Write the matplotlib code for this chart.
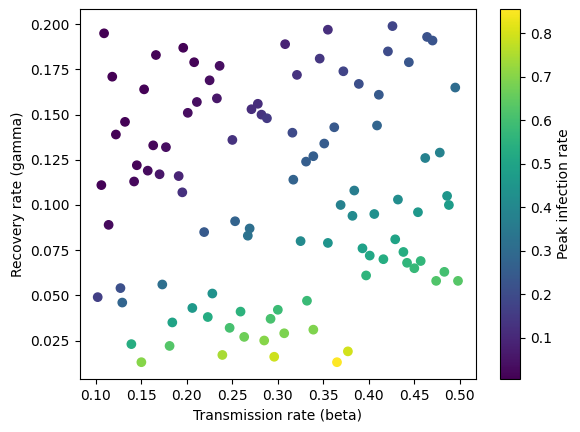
import matplotlib
matplotlib.use("Agg")
import matplotlib.pyplot as plt

# transmission rate (beta), recovery rate (gamma), peak infection rate
beta = [0.109, 0.166, 0.196, 0.208, 0.236, 0.118, 0.225, 0.153, 0.211, 0.233,
        0.201, 0.132, 0.122, 0.163, 0.177, 0.145, 0.157, 0.170, 0.191, 0.106,
        0.142, 0.195, 0.308, 0.321, 0.271, 0.278, 0.282, 0.288, 0.250, 0.316,
        0.317, 0.355, 0.426, 0.464, 0.470, 0.421, 0.346, 0.444, 0.372, 0.389,
        0.411, 0.495, 0.362, 0.409, 0.351, 0.339, 0.331, 0.462, 0.478, 0.384,
        0.432, 0.486, 0.114, 0.219, 0.253, 0.269, 0.267, 0.325, 0.102, 0.127,
        0.129, 0.173, 0.228, 0.206, 0.223, 0.184, 0.259, 0.300, 0.292, 0.247,
        0.263, 0.307, 0.285, 0.139, 0.181, 0.150, 0.239, 0.296, 0.369, 0.488,
        0.382, 0.406, 0.454, 0.355, 0.393, 0.401, 0.416, 0.429, 0.438, 0.442,
        0.450, 0.457, 0.397, 0.483, 0.474, 0.498, 0.332, 0.339, 0.377, 0.365]
gamma = [0.195, 0.183, 0.187, 0.179, 0.177, 0.171, 0.169, 0.164, 0.157, 0.159,
         0.151, 0.146, 0.139, 0.133, 0.132, 0.122, 0.119, 0.117, 0.116, 0.111,
         0.113, 0.107, 0.189, 0.172, 0.153, 0.156, 0.150, 0.148, 0.136, 0.140,
         0.114, 0.197, 0.199, 0.193, 0.191, 0.185, 0.181, 0.179, 0.174, 0.167,
         0.161, 0.165, 0.143, 0.144, 0.134, 0.127, 0.124, 0.126, 0.129, 0.108,
         0.103, 0.105, 0.089, 0.085, 0.091, 0.087, 0.083, 0.080, 0.049, 0.054,
         0.046, 0.056, 0.051, 0.043, 0.038, 0.035, 0.041, 0.042, 0.037, 0.032,
         0.027, 0.029, 0.025, 0.023, 0.022, 0.013, 0.017, 0.016, 0.100, 0.100,
         0.094, 0.095, 0.096, 0.079, 0.076, 0.072, 0.070, 0.081, 0.074, 0.068,
         0.065, 0.069, 0.061, 0.063, 0.058, 0.058, 0.047, 0.031, 0.019, 0.013]
peak = [0.005, 0.010, 0.011, 0.012, 0.035, 0.007, 0.034, 0.010, 0.036, 0.056,
        0.034, 0.010, 0.010, 0.019, 0.036, 0.014, 0.031, 0.055, 0.091, 0.010,
        0.023, 0.122, 0.087, 0.130, 0.112, 0.114, 0.131, 0.145, 0.125, 0.196,
        0.271, 0.120, 0.178, 0.219, 0.227, 0.199, 0.138, 0.232, 0.176, 0.209,
        0.242, 0.301, 0.238, 0.280, 0.250, 0.257, 0.257, 0.374, 0.378, 0.362,
        0.419, 0.453, 0.026, 0.243, 0.271, 0.311, 0.326, 0.410, 0.163, 0.211,
        0.278, 0.313, 0.439, 0.461, 0.528, 0.498, 0.551, 0.585, 0.609, 0.605,
        0.666, 0.686, 0.701, 0.536, 0.628, 0.700, 0.745, 0.789, 0.374, 0.471,
        0.409, 0.427, 0.459, 0.445, 0.487, 0.512, 0.532, 0.497, 0.532, 0.560,
        0.576, 0.566, 0.557, 0.602, 0.622, 0.632, 0.581, 0.690, 0.798, 0.855]

fig = plt.figure(figsize=(5.8, 4.32), dpi=100)
ax = fig.add_axes([0.1374, 0.1227, 0.6833, 0.8558])
cax = fig.add_axes([0.862, 0.1227, 0.0345, 0.8558])

sc = ax.scatter(beta, gamma, c=peak, cmap='viridis')
ax.set_xlabel('Transmission rate (beta)')
ax.set_ylabel('Recovery rate (gamma)')
cb = fig.colorbar(sc, cax=cax)
cb.set_label('Peak infection rate')

fig.savefig('out.png', dpi=100)
